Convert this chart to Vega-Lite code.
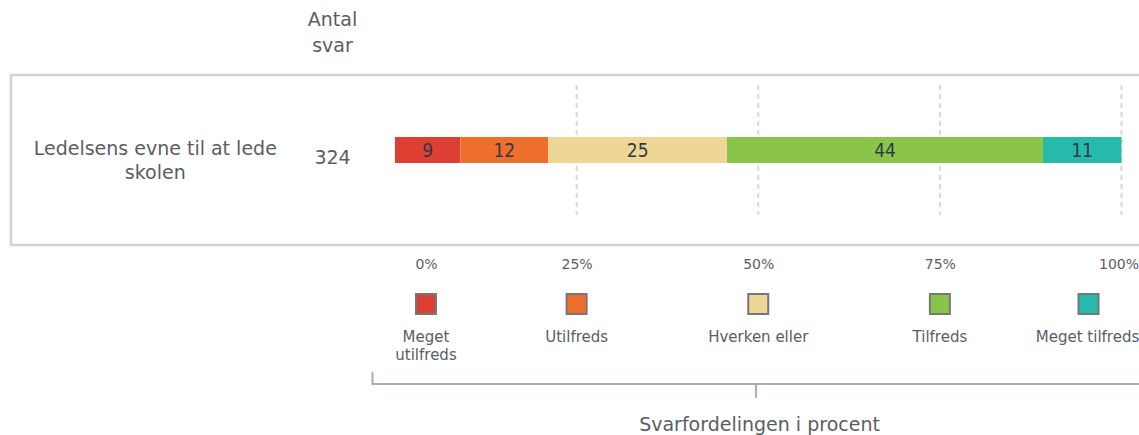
{
  "$schema": "https://vega.github.io/schema/vega-lite/v6.json",
  "width": 1139,
  "height": 435,
  "autosize": "none",
  "padding": 0,
  "background": "white",
  "config": {"view": {"stroke": null}, "font": "DejaVu Sans"},
  "datasets": {
    "answers": [
      {"question": "Ledelsens evne til at lede skolen", "category": "Meget utilfreds", "share": 9.0},
      {"question": "Ledelsens evne til at lede skolen", "category": "Utilfreds", "share": 12.1},
      {"question": "Ledelsens evne til at lede skolen", "category": "Hverken eller", "share": 24.6},
      {"question": "Ledelsens evne til at lede skolen", "category": "Tilfreds", "share": 43.5},
      {"question": "Ledelsens evne til at lede skolen", "category": "Meget tilfreds", "share": 10.8}
    ],
    "questions": [{"question": "Ledelsens evne til at lede skolen", "n": 324}],
    "gridticks": [{"tick": 25}, {"tick": 50}, {"tick": 75}, {"tick": 100}],
    "one": [{}]
  },
  "resolve": {"scale": {"x": "independent"}},
  "layer": [
    {
      "layer": [
        {
          "data": {"name": "gridticks"},
          "mark": {"type": "rule", "strokeDash": [5, 4], "color": "#d9d9d9", "strokeWidth": 2},
          "encoding": {
            "x": {"field": "tick", "type": "quantitative",
              "scale": {"domain": [-54.37, 102.41], "nice": false, "zero": false},
              "axis": {"values": [0, 25, 50, 75, 100], "labelExpr": "datum.value + '%'", "orient": "bottom", "offset": -178,
                "domain": false, "ticks": false, "tickSize": 0, "grid": false, "labelPadding": 0, "labelBaseline": "top",
                "labelFont": "DejaVu Sans", "labelFontSize": 14, "labelColor": "#5a5e62", "labelFlush": false, "labelOverlap": false,
                "labelOffset": {"condition": [{"test": "datum.value === 0", "value": 31}, {"test": "datum.value === 100", "value": -3}], "value": 0},
                "title": "Svarfordelingen i procent", "titleFont": "DejaVu Sans", "titleFontSize": 19, "titleFontWeight": "normal",
                "titleColor": "#5a5e62", "titleX": 759, "titleY": 167, "titleAlign": "center", "titleBaseline": "middle", "titleAngle": 0}},
            "y": {"datum": 85, "type": "quantitative", "scale": {"domain": [435, 0], "nice": false, "zero": false}, "axis": null},
            "y2": {"datum": 215}
          }
        },
        {
          "data": {"name": "one"},
          "mark": {"type": "rect", "fillOpacity": 0, "stroke": "#d3d3d3", "strokeWidth": 2.5},
          "encoding": {
            "x": {"datum": -52.86, "type": "quantitative", "title": "Svarfordelingen i procent"},
            "x2": {"datum": 110},
            "y": {"datum": 75, "type": "quantitative"},
            "y2": {"datum": 245}
          }
        },
        {
          "data": {"name": "answers"},
          "transform": [{"stack": "share", "groupby": ["question"], "as": ["s0", "s1"]}],
          "mark": {"type": "rect"},
          "encoding": {
            "x": {"field": "s0", "type": "quantitative", "title": "Svarfordelingen i procent"},
            "x2": {"field": "s1"},
            "y": {"datum": 137, "type": "quantitative"},
            "y2": {"datum": 163},
            "color": {"field": "category", "type": "nominal", "legend": null,
              "scale": {"domain": ["Meget utilfreds", "Utilfreds", "Hverken eller", "Tilfreds", "Meget tilfreds"],
                "range": ["#dd3f33", "#ee6f2c", "#eed696", "#8bc44a", "#27b9aa"]}}
          }
        },
        {
          "data": {"name": "answers"},
          "transform": [
            {"stack": "share", "groupby": ["question"], "as": ["s0", "s1"]},
            {"calculate": "(datum.s0 + datum.s1) / 2", "as": "mid"}
          ],
          "mark": {"type": "text", "font": "DejaVu Sans Condensed, DejaVu Sans", "fontSize": 19, "color": "#2f3a44", "baseline": "middle"},
          "encoding": {
            "x": {"field": "mid", "type": "quantitative", "title": "Svarfordelingen i procent"},
            "y": {"datum": 151, "type": "quantitative"},
            "text": {"field": "share", "type": "quantitative", "format": ".0f"}
          }
        },
        {
          "data": {"name": "questions"},
          "transform": [
            {"calculate": "[substring(datum.question, 0, lastindexof(datum.question, ' ')), substring(datum.question, lastindexof(datum.question, ' ') + 1)]", "as": "lines"}
          ],
          "mark": {"type": "text", "fontSize": 19, "lineHeight": 24, "align": "center", "baseline": "middle", "color": "#5a5e62"},
          "encoding": {
            "x": {"datum": -33.0, "type": "quantitative", "title": "Svarfordelingen i procent"},
            "y": {"datum": 149, "type": "quantitative"},
            "text": {"field": "lines"}
          }
        },
        {
          "data": {"name": "questions"},
          "mark": {"type": "text", "fontSize": 19, "align": "center", "baseline": "middle", "color": "#5a5e62"},
          "encoding": {
            "x": {"datum": -8.6, "type": "quantitative", "title": "Svarfordelingen i procent"},
            "y": {"datum": 158, "type": "quantitative"},
            "text": {"field": "n", "type": "nominal"}
          }
        },
        {
          "data": {"name": "one"},
          "mark": {"type": "text", "fontSize": 19, "lineHeight": 26, "align": "center", "baseline": "middle", "color": "#5a5e62", "text": ["Antal", "svar"]},
          "encoding": {
            "x": {"datum": -8.6, "type": "quantitative", "title": "Svarfordelingen i procent"},
            "y": {"datum": 20, "type": "quantitative"}
          }
        },
        {
          "data": {"name": "one"},
          "mark": {"type": "rule", "color": "#a3aeb8", "strokeWidth": 2, "strokeCap": "round"},
          "encoding": {
            "x": {"datum": -3.1, "type": "quantitative", "title": "Svarfordelingen i procent"},
            "x2": {"datum": 110},
            "y": {"datum": 384, "type": "quantitative"}
          }
        },
        {
          "data": {"name": "one"},
          "mark": {"type": "rule", "color": "#a3aeb8", "strokeWidth": 2, "strokeCap": "round"},
          "encoding": {
            "x": {"datum": -3.1, "type": "quantitative", "title": "Svarfordelingen i procent"},
            "y": {"datum": 373, "type": "quantitative"},
            "y2": {"datum": 384}
          }
        },
        {
          "data": {"name": "one"},
          "mark": {"type": "rule", "color": "#a3aeb8", "strokeWidth": 2, "strokeCap": "round"},
          "encoding": {
            "x": {"datum": 49.7, "type": "quantitative", "title": "Svarfordelingen i procent"},
            "y": {"datum": 384, "type": "quantitative"},
            "y2": {"datum": 397}
          }
        }
      ]
    },
    {
      "data": {"name": "answers"},
      "encoding": {
        "x": {"field": "category", "type": "nominal", "axis": null,
          "scale": {"type": "point", "domain": ["Meget utilfreds", "Utilfreds", "Hverken eller", "Tilfreds", "Meget tilfreds"], "range": [395, 1121.5], "padding": 0}},
        "color": {"field": "category", "type": "nominal", "legend": null,
          "scale": {"domain": ["Meget utilfreds", "Utilfreds", "Hverken eller", "Tilfreds", "Meget tilfreds"],
            "range": ["#dd3f33", "#ee6f2c", "#eed696", "#8bc44a", "#27b9aa"]}}
      },
      "layer": [
        {
          "mark": {"type": "point", "shape": "square", "size": 400, "filled": true, "opacity": 1, "stroke": "#777777", "strokeWidth": 2,
            "xOffset": {"expr": "datum.category === 'Meget utilfreds' ? 31 : datum.category === 'Meget tilfreds' ? -33 : 0"}},
          "encoding": {
            "y": {"datum": 304, "type": "quantitative", "scale": {"domain": [435, 0], "nice": false, "zero": false}}
          }
        },
        {
          "transform": [{"calculate": "length(datum.category) > 14 ? split(datum.category, ' ') : datum.category", "as": "legendLabel"}],
          "mark": {"type": "text", "fontSize": 15, "lineHeight": 18, "align": "center", "baseline": "top", "color": "#5a5e62",
            "xOffset": {"expr": "datum.category === 'Meget utilfreds' ? 31 : datum.category === 'Meget tilfreds' ? -34 : 0"}},
          "encoding": {
            "y": {"datum": 330, "type": "quantitative"},
            "text": {"field": "legendLabel"},
            "color": {"value": "#5a5e62"}
          }
        }
      ]
    }
  ]
}
